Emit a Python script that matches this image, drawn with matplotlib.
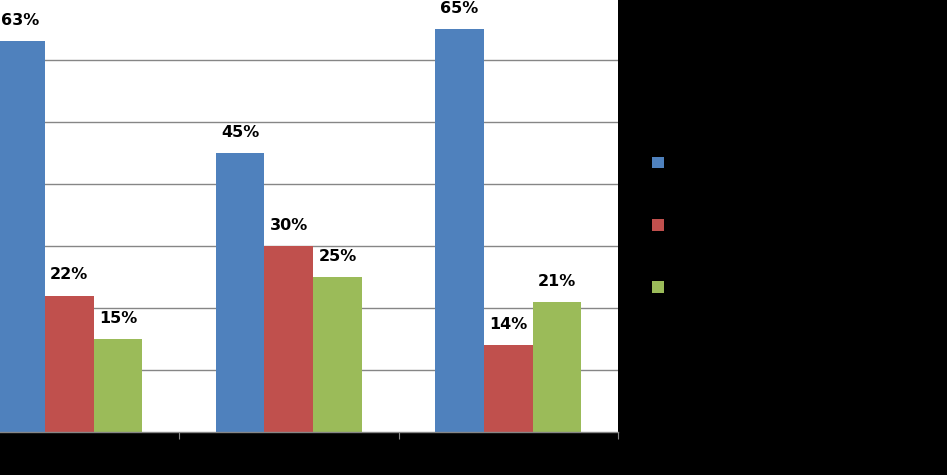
import numpy as np
import matplotlib.pyplot as plt
from matplotlib.patches import Patch

# values (percent)
groups = ['A', 'B', 'C']
series_1 = [63, 45, 65]
series_2 = [22, 30, 14]
series_3 = [15, 25, 21]
colors = ['#4F81BD', '#C0504D', '#9BBB59']

fig = plt.figure(figsize=(9.47, 4.75), dpi=100, facecolor='black')
ax = fig.add_axes([0, 43 / 475, 618 / 947, 432 / 475])
ax.set_facecolor('white')

x = np.arange(len(groups))
w = 1 / 4.5
for i, (vals, c) in enumerate(zip([series_1, series_2, series_3], colors)):
    bars = ax.bar(x + (i - 1) * w, vals, width=w, color=c, zorder=2)
    for b, v in zip(bars, vals):
        ax.annotate(f'{v}%', (b.get_x() + b.get_width() / 2, v),
                    xytext=(0, 9.5), textcoords='offset points',
                    ha='center', va='bottom', fontsize=11.5,
                    fontweight='bold', color='black')

ax.set_xlim(-0.3155, 2.5)
ax.set_ylim(0, 69.68)
ax.set_yticks(np.arange(10, 70, 10))
ax.yaxis.grid(True, color='#868686', linewidth=1, zorder=1)
ax.tick_params(axis='y', length=0, labelleft=False)
ax.set_xticks([0.5, 1.5, 2.5])
ax.tick_params(axis='x', direction='out', length=5, color='#868686',
               labelbottom=False)
for s in ['top', 'right', 'left']:
    ax.spines[s].set_visible(False)
ax.spines['bottom'].set_color('#868686')
ax.spines['bottom'].set_linewidth(1)

handles = [Patch(facecolor=c, edgecolor='none') for c in colors]
fig.legend(handles, ['', '', ''], loc='upper left',
           bbox_to_anchor=(638 / 947, 1 - 142 / 475),
           frameon=False, handlelength=0.8, handleheight=0.8,
           labelspacing=3.1, fontsize=11)

fig.savefig('out.png', dpi=100, facecolor='black')
